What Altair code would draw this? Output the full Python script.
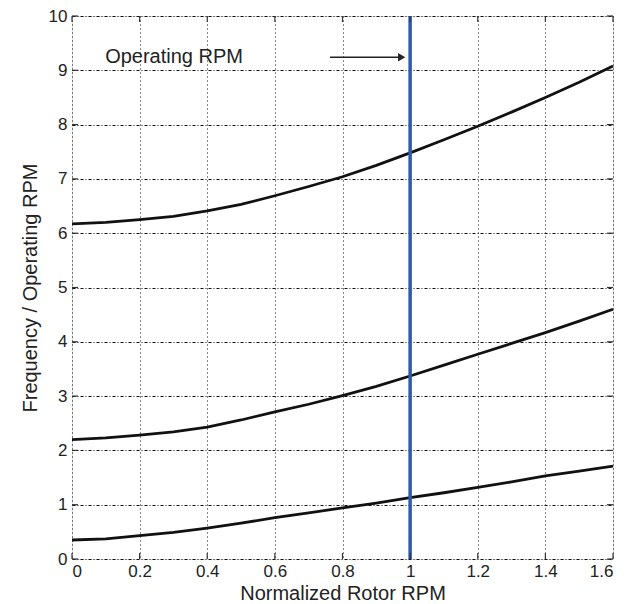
import altair as alt
import pandas as pd

# Data
rpm = [0.0, 0.1, 0.2, 0.3, 0.4, 0.5, 0.6, 0.7, 0.8, 0.9, 1.0, 1.1, 1.2, 1.3, 1.4, 1.5, 1.6]
mode3 = [6.17, 6.20, 6.25, 6.31, 6.41, 6.53, 6.69, 6.86, 7.04, 7.25, 7.48, 7.72, 7.97, 8.23, 8.50, 8.78, 9.08]
mode2 = [2.20, 2.23, 2.28, 2.34, 2.43, 2.56, 2.71, 2.85, 3.01, 3.18, 3.37, 3.57, 3.77, 3.97, 4.17, 4.38, 4.60]
mode1 = [0.35, 0.37, 0.43, 0.49, 0.57, 0.66, 0.76, 0.85, 0.94, 1.03, 1.13, 1.22, 1.32, 1.42, 1.53, 1.62, 1.71]

x_ticks = [0, 0.2, 0.4, 0.6, 0.8, 1.0, 1.2, 1.4, 1.6]
y_ticks = [0, 1, 2, 3, 4, 5, 6, 7, 8, 9, 10]

operating_rpm = [1.0]
label_text = ["Operating RPM"]
label_x = [0.098]
label_y = [9.24]
arrow_x = [0.763, 0.975]
arrow_y = [9.24, 9.24]

W, H = 541, 543
FONT = "Liberation Sans"

rows = []
for name, vals in [("m1", mode1), ("m2", mode2), ("m3", mode3)]:
    for xv, yv in zip(rpm, vals):
        rows.append({"mode": name, "x": xv, "y": yv})
curves = pd.DataFrame(rows)

xs = alt.Scale(domain=[0, 1.6], nice=False)
ys = alt.Scale(domain=[0, 10], nice=False)

x_axis = alt.Axis(values=x_ticks, format="~g", title="Normalized Rotor RPM",
                  grid=True, gridDash=[1, 3], gridColor="#111", gridWidth=1,
                  domain=False, ticks=False, labelPadding=4,
                  labelFont=FONT, labelFontSize=17, labelColor="#222",
                  titleFont=FONT, titleFontSize=20, titleFontWeight="normal",
                  titleColor="#222", titleY=40, titleBaseline="alphabetic")
y_axis = alt.Axis(values=y_ticks, format="d", title="Frequency / Operating RPM",
                  grid=True, gridDash=[3, 2, 1, 2], gridColor="#111", gridWidth=1,
                  domain=False, ticks=False, labelPadding=5,
                  labelFont=FONT, labelFontSize=17, labelColor="#222",
                  titleFont=FONT, titleFontSize=20, titleFontWeight="normal",
                  titleColor="#222", titleX=-36, titleY=H / 2, titleAngle=270,
                  titleAlign="center", titleBaseline="alphabetic")

lines = alt.Chart(curves).mark_line(color="#111", strokeWidth=2.8).encode(
    x=alt.X("x:Q", scale=xs, axis=x_axis),
    y=alt.Y("y:Q", scale=ys, axis=y_axis),
    detail="mode:N",
)

vline = alt.Chart(pd.DataFrame({"x": operating_rpm})).mark_rule(
    color="#2f5aaa", strokeWidth=3.5).encode(
    x=alt.X("x:Q", scale=xs), y=alt.value(0), y2=alt.value(H))

xt = pd.DataFrame({"x": x_ticks})
yt = pd.DataFrame({"y": y_ticks})
tick_style = dict(color="#333", strokeWidth=1.2)
xb = alt.Chart(xt).mark_rule(**tick_style).encode(
    x=alt.X("x:Q", scale=xs), y=alt.value(H), y2=alt.value(H - 6))
xtop = alt.Chart(xt).mark_rule(**tick_style).encode(
    x=alt.X("x:Q", scale=xs), y=alt.value(0), y2=alt.value(6))
yl = alt.Chart(yt).mark_rule(**tick_style).encode(
    y=alt.Y("y:Q", scale=ys), x=alt.value(0), x2=alt.value(6))
yr = alt.Chart(yt).mark_rule(**tick_style).encode(
    y=alt.Y("y:Q", scale=ys), x=alt.value(W), x2=alt.value(W - 6))

label = alt.Chart(pd.DataFrame({"x": label_x, "y": label_y, "t": label_text})).mark_text(
    align="left", baseline="middle", font=FONT, fontSize=20, color="#222").encode(
    x=alt.X("x:Q", scale=xs), y=alt.Y("y:Q", scale=ys), text="t:N")

arrow_df = pd.DataFrame({"x": arrow_x, "y": arrow_y})
arrow_line = alt.Chart(arrow_df).mark_line(color="#222", strokeWidth=1.3).encode(
    x=alt.X("x:Q", scale=xs), y=alt.Y("y:Q", scale=ys))
arrow_head = alt.Chart(arrow_df.tail(1)).mark_point(
    shape="triangle-right", filled=True, color="#222", size=70, opacity=1).encode(
    x=alt.X("x:Q", scale=xs), y=alt.Y("y:Q", scale=ys))

chart = alt.layer(lines, vline, xb, xtop, yl, yr, label, arrow_line, arrow_head).properties(
    width=W, height=H,
    autosize=alt.AutoSizeParams(type="none"),
    padding={"left": 64, "top": 8, "right": 10, "bottom": 45},
).configure_view(stroke="#444", strokeWidth=1.5).configure(background="white")

chart.save("out.html", embed_options={"renderer": "svg", "actions": False})
